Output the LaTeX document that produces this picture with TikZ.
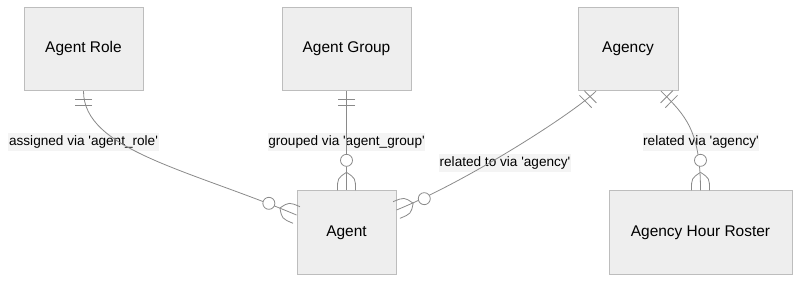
\documentclass[tikz,border=0pt]{standalone}
\usepackage{fontspec}
\setmainfont{Liberation Sans}
\usetikzlibrary{calc}

\definecolor{entfill}{HTML}{EEEEEE}
\definecolor{entline}{HTML}{BDBDBD}
\definecolor{relline}{HTML}{8A8A8A}
\definecolor{lblfill}{HTML}{F4F4F4}

% zero-or-many end: #1 point on the box, #2 a point back along the edge
\newcommand{\zeromany}[2]{%
  \coordinate (zm-a) at ($(#1)!13.5pt!(#2)$);
  \coordinate (zm-c) at ($(#1)!22.5pt!(#2)$);
  \draw[mk] (zm-a) .. controls ($(#1)!11.25pt!36.87:(#2)$) .. ($(#1)!6.75pt!90:(#2)$);
  \draw[mk] (zm-a) .. controls ($(#1)!11.25pt!-36.87:(#2)$) .. ($(#1)!6.75pt!-90:(#2)$);
  \draw[mk, fill=white] (zm-c) circle[radius=4.5pt];
}
% exactly-one end: two bars across the edge
\newcommand{\exactone}[2]{%
  \coordinate (eo-a) at ($(#1)!6pt!(#2)$);
  \coordinate (eo-b) at ($(#1)!11pt!(#2)$);
  \draw[mk] ($(eo-a)!6.5pt!90:(#2)$) -- ($(eo-a)!6.5pt!-90:(#2)$);
  \draw[mk] ($(eo-b)!6.5pt!90:(#2)$) -- ($(eo-b)!6.5pt!-90:(#2)$);
}
\newcommand{\sq}{\textquotesingle}

\begin{document}
\begin{tikzpicture}[
    x=0.75pt, y=-0.75pt,
    ent/.style={rectangle, draw=entline, line width=0.75pt, fill=entfill,
                minimum height=62.5pt, inner sep=0pt,
                font=\fontsize{11.6}{14}\selectfont},
    e/.style={draw=relline, line width=0.6pt},
    mk/.style={draw=relline, line width=0.6pt},
    lbl/.style={font=\fontsize{10.2}{12}\selectfont, fill=lblfill,
                inner xsep=0.5pt, inner ysep=0pt, minimum height=13.5pt},
  ]
  \useasboundingbox (0,0) rectangle (808,285);
  \node[ent, minimum width=89.25pt] (role) at (83.5, 49.0) {Agent Role};
  \node[ent, minimum width=96.75pt] (group) at (346.5, 49.0) {Agent Group};
  \node[ent, minimum width=75.00pt] (agency) at (628.0, 49.0) {Agency};
  \node[ent, minimum width=74.25pt] (agent) at (346.5, 232.5) {Agent};
  \node[ent, minimum width=137.25pt] (roster) at (700.5, 232.5) {Agency Hour Roster};
  % relation labels
  \node[lbl] (l1) at (83.5, 142) {assigned via \sq agent\_role\sq};
  \node[lbl] (l2) at (346.5, 142) {grouped via \sq agent\_group\sq};
  \node[lbl] (l3) at (505, 163) {related to via \sq agency\sq};
  \node[lbl] (l4) at (701, 142) {related via \sq agency\sq};
  % edge ends on the boxes
  \coordinate (r1s) at (role.south);
  \coordinate (r1e) at ($(agent.west)+(0,-17.5)$);
  \coordinate (r2s) at (group.south);
  \coordinate (r2e) at (agent.north);
  \coordinate (r3s) at ($(agency.south)+(-32,0)$);
  \coordinate (r3e) at ($(agent.east)+(0,-22.5)$);
  \coordinate (r4s) at ($(agency.south)+(33,0)$);
  \coordinate (r4e) at (roster.north);
  \draw[e] (r1s) .. controls (83.5,150) and (190,170) .. (r1e);
  \draw[e] (r2s) -- (r2e);
  \draw[e] (r3s) .. controls (575,112) and (470,180) .. (r3e);
  \draw[e] (r4s) .. controls (685,115) and (700.5,130) .. (r4e);
  \exactone{r1s}{83.5,150}
  \exactone{r2s}{r2e}
  \exactone{r3s}{575,112}
  \exactone{r4s}{685,115}
  \zeromany{r1e}{190,170}
  \zeromany{r2e}{r2s}
  \zeromany{r3e}{470,180}
  \zeromany{r4e}{700.5,130}
\end{tikzpicture}
\end{document}
